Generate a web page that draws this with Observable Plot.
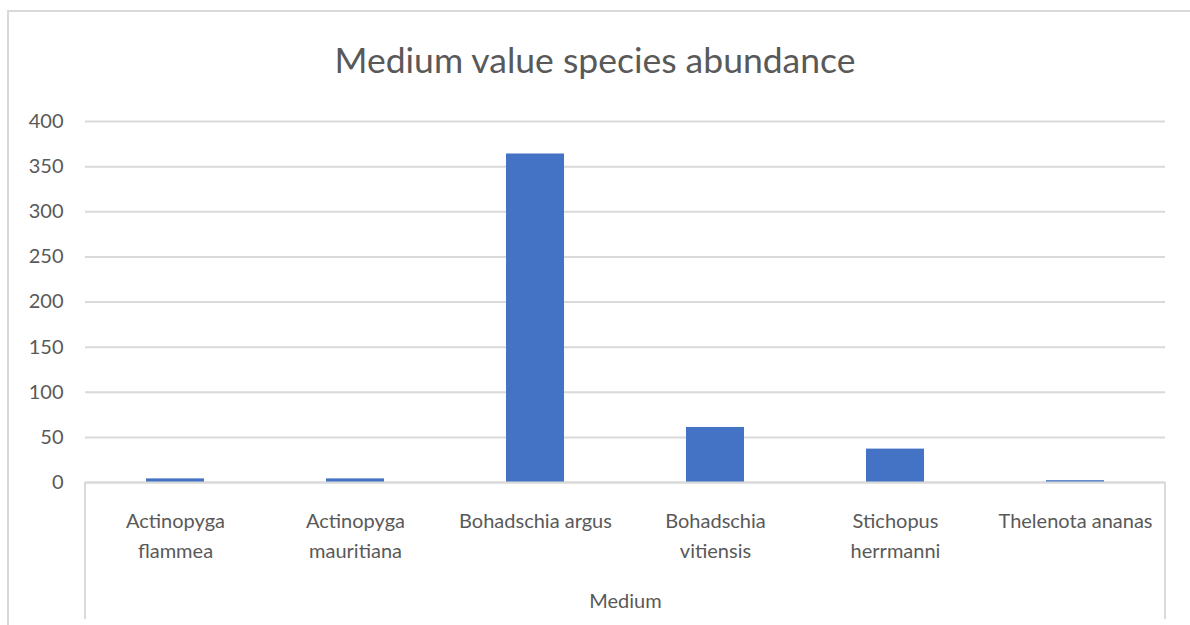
<!DOCTYPE html>
<html>
<head>
<meta charset="utf-8">
<script src="https://cdn.jsdelivr.net/npm/d3@7"></script>
<script src="https://cdn.jsdelivr.net/npm/@observablehq/plot@0.6"></script>
<style>
  html, body { margin: 0; padding: 0; background: #fff; overflow: hidden; }
  body { width: 1190px; height: 625px; position: relative; font-family: Lato, "Open Sans", sans-serif; }
  #border { position: absolute; left: 7px; top: 10px; width: 1200px; height: 700px; border: 2px solid #d9d9d9; box-sizing: border-box; }
  #title { position: absolute; left: 0; top: 0; width: 1190px; height: 100px; text-align: center; line-height: 120px; font-size: 35.5px; color: #595959; }
  #chart { position: absolute; left: 0; top: 100px; }
</style>
</head>
<body>
<div id="border"></div>
<div id="title">Medium value species abundance</div>
<div id="chart"></div>
<script>
const species = ["Actinopyga flammea", "Actinopyga mauritiana", "Bohadschia argus", "Bohadschia vitiensis", "Stichopus herrmanni", "Thelenota ananas"];
const tickLabels = ["Actinopyga\nflammea", "Actinopyga\nmauritiana", "Bohadschia argus", "Bohadschia\nvitiensis", "Stichopus\nherrmanni", "Thelenota ananas"];
const abundance = [4, 4, 364, 61, 37, 2];
const yTicks = [0, 50, 100, 150, 200, 250, 300, 350, 400];
const groupLabel = "Medium";

const data = species.map((s, i) => ({species: s, value: abundance[i]}));
const labelOf = new Map(species.map((s, i) => [s, tickLabels[i]]));

const grey = "#d9d9d9";
const text = "#595959";

const plot = Plot.plot({
  width: 1190,
  height: 525,
  marginLeft: 85,
  marginRight: 25,
  marginTop: 21,
  marginBottom: 143,
  style: { fontFamily: "Lato, 'Open Sans', sans-serif", fontSize: "20px", color: text, background: "transparent" },
  x: { domain: species, paddingInner: 0.68, paddingOuter: 0.34, align: 0.5 },
  y: { domain: [0, 400] },
  marks: [
    Plot.gridY(yTicks, { stroke: grey, strokeOpacity: 1, strokeWidth: 2 }),
    Plot.barY(data, { x: "species", y: "value", fill: "#4472C4" }),
    Plot.ruleY([0], { stroke: grey, strokeWidth: 2 }),
    Plot.axisY(yTicks, { tickSize: 0, tickPadding: 22, fill: text, fontSize: 20, label: null }),
    Plot.axisX({ tickSize: 0, tickPadding: 24, fill: text, fontSize: 20, lineHeight: 1.5, tickFormat: d => labelOf.get(d), label: groupLabel, labelAnchor: "center", labelArrow: "none", labelOffset: 125 }),
    (index, scales, values, dims) => {
      const g = d3.create("svg:g").attr("stroke", grey).attr("stroke-width", 2);
      const y0 = dims.height - dims.marginBottom;
      for (const x of [dims.marginLeft, dims.width - dims.marginRight]) {
        g.append("line").attr("x1", x).attr("x2", x).attr("y1", y0).attr("y2", dims.height - 6);
      }
      return g.node();
    }
  ]
});
document.getElementById("chart").appendChild(plot);
</script>
</body>
</html>
